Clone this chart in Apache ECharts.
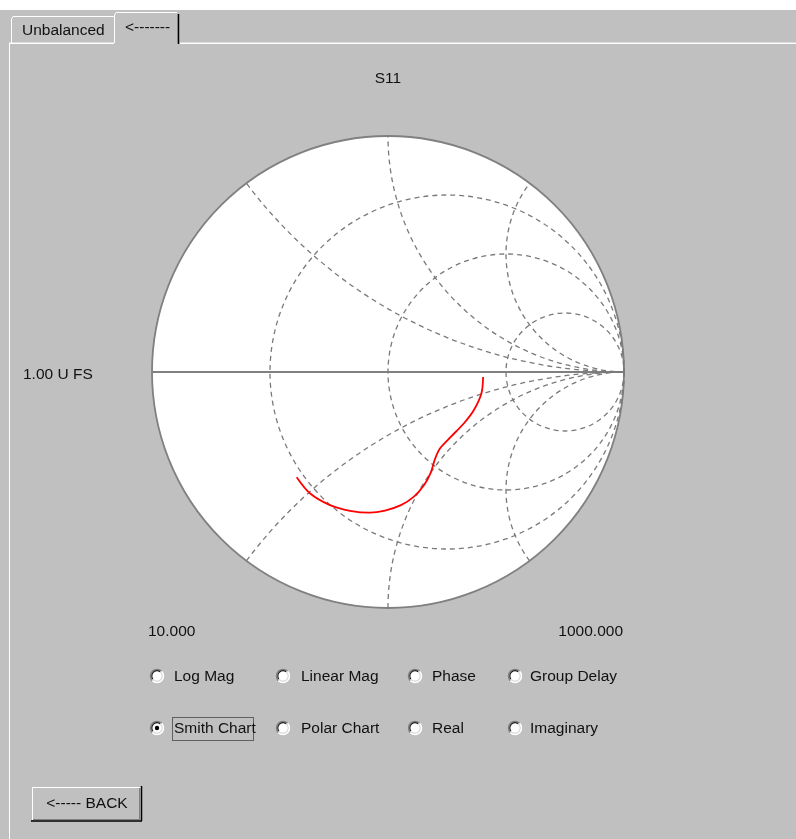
<!DOCTYPE html>
<html>
<head>
<meta charset="utf-8">
<script src="https://cdn.jsdelivr.net/npm/echarts@6/dist/echarts.min.js"></script>
<style>
  html, body { margin: 0; padding: 0; background: #ffffff; }
  #chart { width: 796px; height: 839px; }
</style>
</head>
<body>
<div id="chart"></div>
<script>
// ---- data ----
var chartTitle = 'S11';
var scaleLabel = '1.00 U FS';
var startFreqLabel = '10.000';
var stopFreqLabel = '1000.000';
var resistanceCircles = [1 / 3, 1, 3];
var reactanceArcs = [0.5, 1, 2, -0.5, -1, -2];
// S11 trace, reflection coefficient (real, imaginary)
var s11Re = [0.403, 0.396, 0.364, 0.322, 0.267, 0.220, 0.199, 0.182, 0.153, 0.110, 0.055, -0.013, -0.076, -0.161, -0.246, -0.331, -0.387];
var s11Im = [-0.021, -0.090, -0.161, -0.217, -0.274, -0.324, -0.369, -0.424, -0.479, -0.528, -0.564, -0.587, -0.596, -0.588, -0.564, -0.514, -0.446];
var radioRow1 = ['Log Mag', 'Linear Mag', 'Phase', 'Group Delay'];
var radioRow2 = ['Smith Chart', 'Polar Chart', 'Real', 'Imaginary'];
var tabLabels = ['Unbalanced', '<-------'];
var buttonLabel = '<----- BACK';

// ---- styles ----
var FONT = '"Liberation Sans", Arial, sans-serif';
var FS = 15.5;
var GRID_GRAY = '#7a7a7a';

var chart = echarts.init(document.getElementById('chart'), null, { renderer: 'canvas' });

function txt(x, y, s, align, extra) {
  return Object.assign({
    type: 'text', x: x, y: y, z: 10,
    style: { text: s, fill: '#111', font: FS + 'px ' + FONT, textAlign: align || 'left', textVerticalAlign: 'middle' }
  }, extra || {});
}
function line(x1, y1, x2, y2, color, w) {
  return { type: 'line', z: 5, shape: { x1: x1, y1: y1, x2: x2, y2: y2 }, style: { stroke: color, lineWidth: w || 1 } };
}
function radio(cx, cy, checked) {
  var els = [
    { type: 'circle', z: 6, shape: { cx: cx, cy: cy, r: 6.5 }, style: { fill: '#ffffff', stroke: null } },
    { type: 'arc', z: 7, shape: { cx: cx, cy: cy, r: 6.5, startAngle: Math.PI * 0.75, endAngle: Math.PI * 1.75, clockwise: true }, style: { stroke: '#808080', lineWidth: 1.5, fill: null } },
    { type: 'arc', z: 7, shape: { cx: cx, cy: cy, r: 5.2, startAngle: Math.PI * 0.8, endAngle: Math.PI * 1.7, clockwise: true }, style: { stroke: '#202020', lineWidth: 1.2, fill: null } },
    { type: 'arc', z: 7, shape: { cx: cx, cy: cy, r: 6.5, startAngle: -Math.PI * 0.25, endAngle: Math.PI * 0.75, clockwise: true }, style: { stroke: '#ffffff', lineWidth: 1.5, fill: null } },
    { type: 'arc', z: 7, shape: { cx: cx, cy: cy, r: 5.2, startAngle: -Math.PI * 0.3, endAngle: Math.PI * 0.8, clockwise: true }, style: { stroke: '#d8d8d8', lineWidth: 1.2, fill: null } }
  ];
  if (checked) {
    els.push({ type: 'circle', z: 8, shape: { cx: cx, cy: cy, r: 2.2 }, style: { fill: '#000' } });
  }
  return els;
}

var graphics = [];
// top white strip
graphics.push({ type: 'rect', z: 1, shape: { x: 0, y: 0, width: 796, height: 10 }, style: { fill: '#ffffff' } });
// panel borders
graphics.push(line(9.5, 43, 9.5, 839, '#ffffff', 1));
graphics.push(line(9, 43.5, 114, 43.5, '#ffffff', 1));
graphics.push(line(180, 43.5, 796, 43.5, '#ffffff', 1));
graphics.push(line(9, 42.5, 114, 42.5, '#dcdcdc', 1));
graphics.push(line(180, 42.5, 796, 42.5, '#dcdcdc', 1));
// Unbalanced tab
graphics.push(line(11.5, 43, 11.5, 19, '#ffffff', 1));
graphics.push(line(13, 16.5, 114, 16.5, '#ffffff', 1));
graphics.push(line(11.5, 19, 13, 16.5, '#ffffff', 1));
// selected tab
graphics.push(line(114.5, 43, 114.5, 15, '#ffffff', 1));
graphics.push(line(116, 12.5, 177, 12.5, '#ffffff', 1));
graphics.push(line(114.5, 15, 116, 12.5, '#ffffff', 1));
graphics.push(line(178.5, 14, 178.5, 44, '#000000', 1.5));
graphics.push(line(177.5, 14, 177.5, 43, '#808080', 1));
graphics.push(txt(22, 31, tabLabels[0]));
graphics.push(txt(125, 28, tabLabels[1]));

// chart labels
graphics.push(txt(388, 79, chartTitle, 'center'));
graphics.push(txt(23, 375, scaleLabel));
graphics.push(txt(148, 632, startFreqLabel));
graphics.push(txt(623, 632, stopFreqLabel, 'right'));

// radio buttons
var radioX = [157, 283, 415, 515];
var textX = [174, 301, 432, 530];
radioRow1.forEach(function (s, i) {
  graphics = graphics.concat(radio(radioX[i], 676, false));
  graphics.push(txt(textX[i], 677, s));
});
radioRow2.forEach(function (s, i) {
  graphics = graphics.concat(radio(radioX[i], 728, i === 0));
  graphics.push(txt(textX[i], 729, s));
});
// focus rectangle around "Smith Chart"
graphics.push({ type: 'rect', z: 6, shape: { x: 172.5, y: 717.5, width: 81, height: 23 }, style: { fill: null, stroke: '#000', lineWidth: 1, lineDash: [1, 1] } });

// BACK button
graphics.push({ type: 'rect', z: 4, shape: { x: 32, y: 787, width: 110, height: 34 }, style: { fill: '#c0c0c0' } });
graphics.push(line(32, 787.5, 141, 787.5, '#ffffff', 1));
graphics.push(line(32.5, 787, 32.5, 820, '#ffffff', 1));
graphics.push(line(31, 821, 142, 821, '#000000', 1.5));
graphics.push(line(141.5, 786, 141.5, 821, '#000000', 1.5));
graphics.push(line(33, 819.5, 140, 819.5, '#808080', 1));
graphics.push(line(139.5, 788, 139.5, 820, '#808080', 1));
graphics.push(txt(87, 804, buttonLabel, 'center'));

var option = {
  backgroundColor: '#c0c0c0',
  animation: false,
  grid: { left: 152, top: 136, width: 472, height: 472 },
  xAxis: { type: 'value', min: -1, max: 1, show: false },
  yAxis: { type: 'value', min: -1, max: 1, show: false },
  graphic: graphics,
  series: [
    {
      // chart disc, outer circle and real axis
      type: 'custom', z: 1, silent: true, clip: false,
      data: [[0, 0]],
      renderItem: function (params, api) {
        var c = api.coord([0, 0]);
        var e = api.coord([1, 0]);
        var l = api.coord([-1, 0]);
        var R = e[0] - c[0];
        return {
          type: 'group',
          children: [
            { type: 'circle', shape: { cx: c[0], cy: c[1], r: R }, style: { fill: '#ffffff', stroke: '#808080', lineWidth: 1.8 } },
            { type: 'line', shape: { x1: l[0], y1: c[1], x2: e[0], y2: c[1] }, style: { stroke: '#808080', lineWidth: 2 }, z2: 5 }
          ]
        };
      }
    },
    {
      // constant resistance circles
      type: 'custom', z: 2, silent: true, clip: false,
      data: resistanceCircles.map(function (r) { return [r, 0]; }),
      renderItem: function (params, api) {
        var r = api.value(0);
        var c = api.coord([r / (1 + r), 0]);
        var e = api.coord([1, 0]);
        return {
          type: 'circle',
          shape: { cx: c[0], cy: c[1], r: e[0] - c[0] },
          style: { fill: null, stroke: GRID_GRAY, lineWidth: 1.3, lineDash: [5, 4] }
        };
      }
    },
    {
      // constant reactance arcs
      type: 'custom', z: 2, silent: true, clip: false,
      data: reactanceArcs.map(function (x) { return [x, 0]; }),
      renderItem: function (params, api) {
        var x = api.value(0);
        var ax = Math.abs(x);
        var cG = [1, 1 / ax];
        var iG = [(ax * ax - 1) / (ax * ax + 1), 2 * ax / (ax * ax + 1)];
        var phiEnd = Math.atan2(iG[1] - cG[1], iG[0] - cG[0]);
        if (phiEnd > 0) phiEnd -= 2 * Math.PI;
        var c = api.coord([1, 1 / x]);
        var e = api.coord([1 + 1 / ax, 1 / x]);
        var R = e[0] - c[0];
        var a0, a1;
        if (x > 0) { a0 = Math.PI / 2; a1 = -phiEnd; }
        else { a0 = phiEnd; a1 = -Math.PI / 2; }
        return {
          type: 'arc',
          shape: { cx: c[0], cy: c[1], r: R, startAngle: a0, endAngle: a1, clockwise: true },
          style: { fill: null, stroke: GRID_GRAY, lineWidth: 1.3, lineDash: [5, 4] }
        };
      }
    },
    {
      name: chartTitle,
      type: 'line', z: 4, silent: true,
      data: s11Re.map(function (v, i) { return [v, s11Im[i]]; }),
      smooth: 0.3,
      showSymbol: false, symbol: 'none',
      lineStyle: { color: '#ff0000', width: 1.8 }
    }
  ]
};
chart.setOption(option);
</script>
</body>
</html>
